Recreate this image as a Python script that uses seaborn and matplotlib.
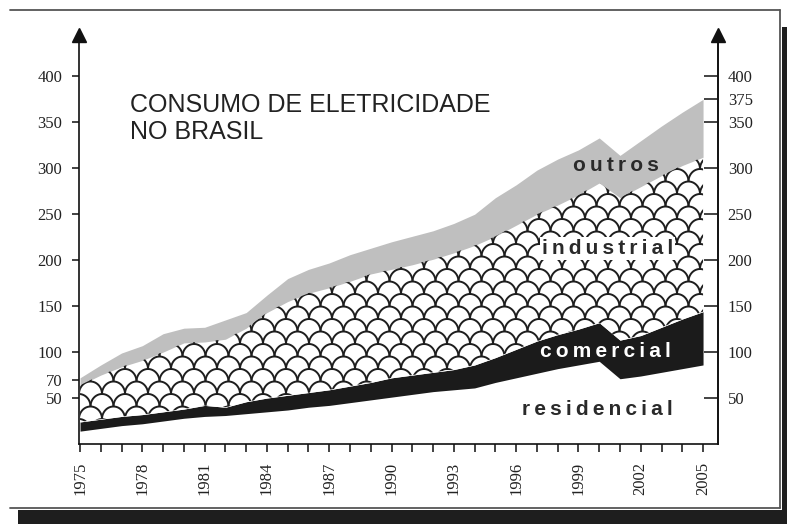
import numpy as np
import pandas as pd
import seaborn as sns
import matplotlib.pyplot as plt
from matplotlib.collections import LineCollection
from matplotlib.patches import Rectangle
from matplotlib.lines import Line2D

# consumo de eletricidade no Brasil (TWh)
years = list(range(1975, 2006))
residencial = [14, 17, 20, 22, 25, 28, 30, 31, 33, 35, 37, 40, 42, 45, 48, 51,
               54, 57, 59, 61, 67, 72, 77, 82, 86, 90, 71, 74, 78, 82, 86]
comercial = [10, 10, 10, 10, 10, 10, 12, 9, 13, 15, 16, 16, 17, 18, 19, 21,
             21, 21, 22, 25, 27, 31, 35, 37, 39, 42, 42, 44, 49, 54, 58]
industrial = [40, 48, 54, 59, 65, 72, 69, 74, 80, 93, 102, 108, 111, 114, 118, 118,
              120, 123, 127, 130, 132, 135, 138, 141, 146, 152, 155, 162, 165, 167, 168]
outros = [8, 11, 15, 16, 20, 16, 16, 21, 17, 19, 25, 26, 27, 29, 28, 30,
          31, 31, 32, 34, 42, 44, 48, 50, 49, 49, 46, 50, 54, 58, 63]

left_ticks = [50, 70, 100, 150, 200, 250, 300, 350, 400]
right_ticks = [50, 100, 150, 200, 250, 300, 350, 375, 400]
year_labels = [str(y) if (y - 1975) % 3 == 0 else '' for y in years]

df = pd.DataFrame({'ano': years, 'residencial': residencial, 'comercial': comercial,
                   'industrial': industrial, 'outros': outros})
df['c1'] = df['residencial']
df['c2'] = df['c1'] + df['comercial']
df['c3'] = df['c2'] + df['industrial']
df['c4'] = df['c3'] + df['outros']

sns.set_theme(style='ticks')
plt.rcParams['font.family'] = ['Liberation Serif', 'DejaVu Serif']

W, H = 787, 524
fig = plt.figure(figsize=(W / 100, H / 100), dpi=100)
fig.patch.set_facecolor('white')
ax = fig.add_axes([79 / W, 1 - 444 / H, (718 - 79) / W, (444 - 35) / H])
ax.set_xlim(1974.95, 2005.72)
ax.set_ylim(0, 445)

ax.fill_between(df['ano'], df['c1'], df['c2'], color='#1b1b1b', lw=0)
ind = ax.fill_between(df['ano'], df['c2'], df['c3'], color='white', lw=0)
ax.fill_between(df['ano'], df['c3'], df['c4'], color='#bfbfbf', lw=0)

# escamas dentro da area industrial
inv = ax.transData.inverted()
x0, y0 = ax.transData.transform((1974.95, 0))
x1, y1 = ax.transData.transform((2005.72, 445))
r, dy = 11.5, 12.5
theta = np.linspace(0, np.pi, 25)
segs = []
j = 0
yy = y0 - dy
while yy < y1 + dy:
    xx = x0 - 2 * r + (r if j % 2 else 0)
    while xx < x1 + 2 * r:
        pts = np.column_stack([xx + r * np.cos(theta), yy + dy * np.sin(theta)])
        segs.append(inv.transform(pts))
        xx += 2 * r
    yy += dy
    j += 1
lc = LineCollection(segs, colors='#1e1e1e', linewidths=1.4)
ax.add_collection(lc)
lc.set_clip_path(ind.get_paths()[0], transform=ax.transData)

# eixos
for s in ['left', 'bottom', 'right']:
    ax.spines[s].set_linewidth(1.2)
    ax.spines[s].set_color('#111111')
ax.spines['top'].set_visible(False)
ax.set_xticks(years)
ax.set_xticklabels(year_labels, rotation=90)
ax.set_yticks(left_ticks)
ax.tick_params(axis='x', direction='out', length=6, width=1.2, pad=7,
               labelsize=12, colors='#222222')
ax.tick_params(axis='y', direction='out', length=5, width=1.2, pad=7,
               labelsize=12, colors='#222222')

ax2 = ax.twinx()
ax2.set_ylim(0, 445)
ax2.set_yticks(right_ticks)
ax2.tick_params(axis='y', direction='in', length=10, width=1.2, pad=7,
                labelsize=12, colors='#222222')
for s in ['left', 'bottom', 'top']:
    ax2.spines[s].set_visible(False)
ax2.spines['right'].set_linewidth(1.2)
ax2.spines['right'].set_color('#111111')

ax.plot([0, 1], [1, 1], transform=ax.transAxes, ls='', marker='^', ms=10,
        color='#111111', clip_on=False)

# textos
sans = ['Liberation Sans', 'DejaVu Sans']
ax.text(1977.4, 382, 'CONSUMO DE ELETRICIDADE\nNO BRASIL', family=sans,
        fontsize=18, color='#222222', va='top', ha='left', linespacing=1.15)


def spaced(s):
    return '\u2009'.join(s)


lab = dict(family=sans, fontsize=15, fontweight='bold', ha='center', va='center')
ax.text(2000.8, 303, spaced('outros'), color='#2a2a2a', **lab)
ax.text(2000.4, 213, spaced('industrial'), color='#2a2a2a',
        bbox=dict(fc='white', ec='none', pad=1.5), **lab)
ax.text(2000.3, 101, spaced('comercial'), color='white', **lab)
ax.text(1999.9, 37, spaced('residencial'), color='#2a2a2a', **lab)

# moldura com sombra


def px(x, y):
    return x / W, 1 - y / H


for a, b in [((10, 10), (780, 10)), ((780, 10), (780, 508)), ((10, 508), (780, 508))]:
    (xa, ya), (xb, yb) = px(*a), px(*b)
    fig.add_artist(Line2D([xa, xb], [ya, yb], transform=fig.transFigure,
                          color='#555555', lw=1.3))
fig.add_artist(Rectangle((782 / W, 0), 5 / W, 1 - 27 / H, transform=fig.transFigure,
                         color='#1e1e1e', lw=0))
fig.add_artist(Rectangle((18 / W, 0), 1, (524 - 510) / H, transform=fig.transFigure,
                         color='#1e1e1e', lw=0))

fig.savefig('out.png', dpi=100)
